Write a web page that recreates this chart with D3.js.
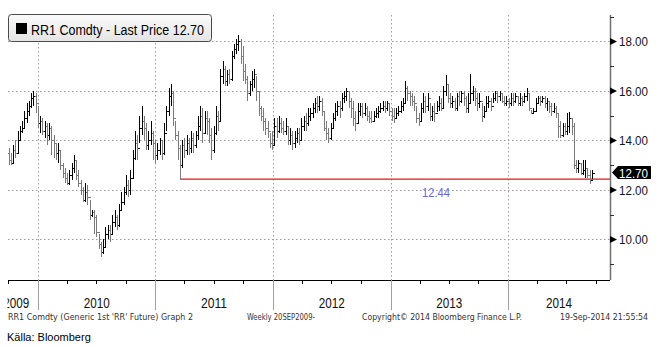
<!DOCTYPE html>
<html>
<head>
<meta charset="utf-8">
<script src="https://cdn.jsdelivr.net/npm/d3@7"></script>
<style>
html,body{margin:0;padding:0;background:#fff;}
svg{display:block;}
</style>
</head>
<body>
<svg id="c" width="657" height="347"></svg>
<script>
// ---------------- DATA ----------------
const firstWeek = new Date(2009, 9, 2);   // weekly bars (Fridays)
const lastWeek  = new Date(2014, 8, 19);
const closeVals = [
13.2,13.1,13.6,13.5,14.0,14.4,14.5,14.9,15.2,15.4,
15.7,15.8,15.5,14.7,14.8,14.4,14.6,14.2,14.5,14.0,
13.9,13.5,13.6,13.0,12.7,12.5,12.3,12.6,12.9,13.2,
12.6,12.3,12.0,11.6,11.9,11.7,11.0,11.1,10.9,10.3,
9.8,9.5,9.7,10.2,10.4,10.2,10.7,10.9,10.6,11.2,
11.5,11.9,12.2,12.0,12.5,13.3,13.9,13.7,14.5,14.8,
14.5,13.8,14.0,14.3,13.9,13.4,13.6,14.0,13.5,14.3,
15.2,15.8,15.9,14.9,14.2,13.7,13.0,13.8,13.6,13.9,
13.7,14.1,13.8,14.2,14.6,15.0,14.3,14.9,14.8,14.2,
13.6,14.3,15.0,14.8,16.6,16.9,16.4,16.7,16.5,17.4,
17.7,17.9,18.0,17.4,16.8,16.5,15.9,16.3,16.5,16.7,
16.0,15.3,15.0,14.8,14.5,14.4,13.9,13.8,14.6,14.4,
14.7,14.5,14.4,14.6,14.0,14.2,13.9,14.1,14.3,14.0,
14.6,14.8,14.7,15.0,15.1,15.3,15.5,15.4,15.6,15.2,
14.5,14.3,14.1,14.5,14.9,15.2,15.4,15.3,15.7,15.8,
16.0,15.6,15.3,14.9,14.7,15.2,15.4,15.1,15.3,15.0,
14.9,14.8,15.0,15.1,15.2,15.3,15.4,15.3,15.5,15.2,
15.0,14.9,15.1,15.2,15.4,15.5,16.1,15.9,15.8,15.6,
15.5,14.9,14.8,15.3,15.6,15.4,15.7,15.0,15.2,15.1,
15.4,15.5,15.3,16.0,16.3,15.7,15.5,15.6,15.3,15.8,
15.6,15.9,15.7,15.3,15.5,15.9,16.0,15.7,15.5,15.6,
15.0,15.2,15.5,15.6,15.4,15.7,15.9,15.8,15.9,15.6,
15.5,15.6,15.5,15.7,15.6,15.8,15.5,15.7,15.6,15.8,
15.9,15.3,15.1,15.2,15.5,15.7,15.6,15.7,15.5,15.6,
15.4,15.2,15.3,15.1,14.6,14.2,14.6,14.4,14.6,14.9,
14.6,13.0,12.9,13.1,12.7,12.8,12.9,12.6,12.4,12.7];
const highVals = [
13.7,13.5,13.8,14.0,14.4,14.6,14.8,15.2,15.5,15.6,
15.9,16.0,15.9,15.4,15.0,14.9,14.8,14.7,14.7,14.6,
14.2,13.9,13.9,13.6,13.1,12.9,12.7,12.8,13.1,13.4,
13.2,12.8,12.4,12.1,12.3,12.2,11.6,11.2,11.2,11.0,
10.2,9.9,10.0,10.5,10.6,10.6,11.0,11.2,11.0,11.45,
11.9,12.1,12.6,12.4,12.8,13.6,14.4,14.2,15.0,15.4,
15.0,14.7,14.4,14.8,14.4,14.0,13.9,14.1,14.0,14.7,
15.4,16.1,16.3,16.0,14.8,14.4,13.8,14.0,14.1,14.2,
14.1,14.4,14.3,14.4,15.0,15.4,15.3,15.2,15.2,14.9,
14.5,14.6,15.4,15.2,16.9,17.2,17.0,16.85,16.9,17.6,
17.9,18.1,18.27,18.1,17.8,17.1,16.6,16.4,16.8,16.9,
16.6,16.0,15.4,15.3,14.9,14.8,14.3,14.4,14.9,14.9,
15.0,14.9,14.8,14.9,14.6,14.5,14.4,14.4,14.5,14.5,
14.9,15.0,15.1,15.3,15.3,15.5,15.7,15.8,15.8,15.7,
15.2,14.8,14.5,14.7,15.1,15.5,15.6,15.6,15.9,16.0,
16.1,16.0,15.7,15.6,15.2,15.5,15.5,15.5,15.5,15.4,
15.2,15.2,15.2,15.3,15.4,15.5,15.6,15.6,15.6,15.5,
15.3,15.3,15.3,15.4,15.6,15.7,16.4,16.2,16.0,15.9,
15.8,15.4,15.1,15.5,15.9,15.8,15.9,15.5,15.4,15.5,
15.6,15.8,15.7,16.2,16.65,16.3,15.9,15.8,15.7,15.9,
16.0,16.0,16.0,15.8,15.9,16.7,16.2,16.1,15.9,15.9,
15.5,15.4,15.8,15.8,15.7,15.9,16.0,16.0,16.0,15.9,
15.8,15.8,15.7,15.9,15.9,15.9,15.8,15.9,15.8,15.9,
16.1,15.9,15.25,15.3,15.7,15.8,15.8,15.8,15.8,15.7,
15.55,15.5,15.5,15.4,15.1,14.8,14.7,14.7,15.1,15.15,
14.9,14.7,13.2,13.2,13.1,13.2,13.2,12.9,12.8,12.8];
const lowVals = [
13.0,13.0,13.1,13.3,13.5,14.0,14.3,14.5,14.7,15.0,
15.3,15.4,15.1,14.5,14.3,14.2,14.1,13.8,14.0,13.4,
13.3,13.2,13.1,12.8,12.5,12.3,12.2,12.2,12.4,12.7,
12.4,12.1,11.8,11.5,11.5,11.4,10.8,10.9,10.2,10.1,
9.6,9.3,9.4,9.7,10.0,9.9,10.2,10.5,10.4,10.5,
11.2,11.4,11.8,11.7,11.8,12.5,13.2,13.2,13.9,14.2,
14.0,13.6,13.6,13.8,13.2,13.1,13.2,13.4,13.2,13.4,
14.4,15.0,15.4,14.6,14.0,13.2,12.44,12.9,13.3,13.4,
13.4,13.5,13.5,13.7,14.0,14.4,13.9,14.3,14.2,13.9,
13.2,13.5,14.2,14.4,14.8,16.3,16.2,16.2,16.3,16.4,
17.3,17.5,17.6,17.1,16.4,16.3,15.6,15.8,16.0,16.1,
15.6,15.0,14.8,14.4,14.2,14.1,13.7,13.6,13.8,14.1,
14.3,14.3,14.2,14.2,13.8,13.8,13.6,13.7,13.9,13.8,
14.0,14.4,14.4,14.6,14.8,14.9,15.1,15.1,15.2,15.0,
14.4,14.0,13.9,14.0,14.5,14.8,15.0,14.9,15.2,15.5,
15.6,15.3,14.9,14.6,14.4,14.7,15.0,14.9,15.0,14.8,
14.7,14.7,14.8,14.9,14.9,15.1,15.2,15.1,15.2,15.0,
14.8,14.7,14.9,15.0,15.1,15.2,15.5,15.6,15.4,15.4,
15.2,14.7,14.6,14.8,15.1,15.1,15.2,14.8,14.8,14.75,
15.15,15.2,15.2,15.3,15.8,15.5,15.3,15.3,15.2,15.2,
15.4,15.5,15.4,15.1,15.1,15.5,15.6,15.4,15.2,15.3,
14.75,14.9,15.2,15.3,15.2,15.5,15.6,15.5,15.6,15.5,
15.4,15.4,15.3,15.4,15.4,15.5,15.4,15.4,15.4,15.5,
15.6,15.2,15.05,15.1,15.2,15.5,15.4,15.5,15.3,15.2,
15.1,15.0,15.1,14.9,14.1,14.1,14.15,14.2,14.2,14.3,
14.2,12.85,12.7,12.7,12.6,12.6,12.5,12.5,12.25,12.45];
const firstOpen = 13.5;
const lastPrice = 12.70;
const refLevel = 12.44;
const refStartWeek = 76;
const yMajorTicks = [10, 12, 14, 16, 18];
const yMinorTicks = [9, 11, 13, 15, 17, 19];
const yearLabels = ["2009", "2010", "2011", "2012", "2013", "2014"];
const legendText = "RR1 Comdty - Last Price 12.70";
const footer = ["RR1 Comdty (Generic 1st 'RR' Future) Graph 2", "Weekly 20SEP2009-",
                "Copyright\u00A9 2014 Bloomberg Finance L.P.", "19-Sep-2014 21:55:54"];
const sourceText = "K\u00E4lla: Bloomberg";

// ---------------- LAYOUT ----------------
const W = 657, H = 347;
const L = 8, R = 610, T = 15, B = 280;
const svg = d3.select("#c");

const dates = d3.timeFriday.range(firstWeek, d3.timeDay.offset(lastWeek, 1));
const bars = dates.map((d, i) => ({
  d, o: i === 0 ? firstOpen : closeVals[i - 1], h: highVals[i], l: lowVals[i], c: closeVals[i]
}));

const x = d3.scaleTime().domain([new Date(2009, 8, 30), new Date(2014, 10, 14)]).range([L, R]);
const y = d3.scaleLinear().domain([8.36, 19.07]).range([B, T]);

svg.append("rect").attr("width", W).attr("height", H).attr("fill", "#fff");

const defs = svg.append("defs");
defs.append("clipPath").attr("id", "axclip").append("rect")
  .attr("x", 7.5).attr("y", 280).attr("width", 610).attr("height", 40);
const grad = defs.append("linearGradient").attr("id", "lg").attr("x1", 0).attr("y1", 0).attr("x2", 0).attr("y2", 1);
grad.append("stop").attr("offset", "0%").attr("stop-color", "#fbfbfb");
grad.append("stop").attr("offset", "100%").attr("stop-color", "#e4e4e4");

// grid
const years = d3.timeYear.range(new Date(2010, 0, 1), new Date(2014, 11, 31));
svg.append("g").selectAll("line").data(yMajorTicks).join("line")
  .attr("x1", L).attr("x2", R)
  .attr("y1", d => Math.round(y(d)) + 0.5).attr("y2", d => Math.round(y(d)) + 0.5)
  .attr("stroke", "#9a9a9a").attr("stroke-dasharray", "1.5,2.5");
svg.append("g").selectAll("line").data(years).join("line")
  .attr("x1", d => Math.round(x(d)) + 0.5).attr("x2", d => Math.round(x(d)) + 0.5)
  .attr("y1", T).attr("y2", B)
  .attr("stroke", "#9a9a9a").attr("stroke-dasharray", "1.5,2.5");

// reference line
svg.append("line")
  .attr("x1", Math.round(x(dates[refStartWeek]))).attr("x2", R)
  .attr("y1", y(refLevel)).attr("y2", y(refLevel))
  .attr("stroke", "#ee1111").attr("stroke-width", 1.3);
svg.append("text").attr("x", 436).attr("y", 197).attr("text-anchor", "middle")
  .attr("font-family", "Liberation Sans, Arial, sans-serif").attr("font-size", 13)
  .attr("fill", "#6a6ad6").attr("textLength", 28).attr("lengthAdjust", "spacingAndGlyphs")
  .text(refLevel.toFixed(2));

// OHLC bars
const gb = svg.append("g").attr("shape-rendering", "crispEdges");
bars.forEach(b => {
  const cx = Math.round(x(b.d)) + 0.5;
  const col = b.c >= b.o ? "#000" : "#7a7a7a";
  gb.append("line").attr("x1", cx).attr("x2", cx).attr("y1", y(b.h)).attr("y2", y(b.l)).attr("stroke", col);
  gb.append("line").attr("x1", cx - 1.5).attr("x2", cx).attr("y1", Math.round(y(b.o)) + 0.5).attr("y2", Math.round(y(b.o)) + 0.5).attr("stroke", col);
  gb.append("line").attr("x1", cx).attr("x2", cx + 2).attr("y1", Math.round(y(b.c)) + 0.5).attr("y2", Math.round(y(b.c)) + 0.5).attr("stroke", col);
});

// right axis
svg.append("line").attr("x1", R + 0.5).attr("x2", R + 0.5).attr("y1", T).attr("y2", B)
  .attr("stroke", "#707070").attr("stroke-width", 1.5);
svg.append("g").selectAll("line").data(yMinorTicks.filter(v => y(v) >= T - 1)).join("line")
  .attr("x1", R).attr("x2", R + 4)
  .attr("y1", d => Math.round(y(d)) + 0.5).attr("y2", d => Math.round(y(d)) + 0.5)
  .attr("stroke", "#333");
const gm = svg.append("g").selectAll("g").data(yMajorTicks).join("g")
  .attr("transform", d => `translate(0,${y(d)})`);
gm.append("path").attr("d", `M${R},-3.5 L${R + 7},0 L${R},3.5 Z`).attr("fill", "#000");
gm.append("text").attr("x", 619).attr("y", 5)
  .attr("font-family", "Liberation Sans, Arial, sans-serif").attr("font-size", 13.5)
  .attr("fill", "#141428").attr("textLength", 29).attr("lengthAdjust", "spacingAndGlyphs")
  .text(d => d.toFixed(2));

// last price tag
const ly = y(lastPrice);
svg.append("path")
  .attr("d", `M${R + 2},${ly} L${R + 8},${ly - 6.5} L651,${ly - 6.5} L651,${ly + 6.5} L${R + 8},${ly + 6.5} Z`)
  .attr("fill", "#000");
svg.append("text").attr("x", 619).attr("y", ly + 5)
  .attr("font-family", "Liberation Sans, Arial, sans-serif").attr("font-size", 13.5)
  .attr("fill", "#fff").attr("textLength", 29).attr("lengthAdjust", "spacingAndGlyphs")
  .text(lastPrice.toFixed(2));

// bottom axis
svg.append("line").attr("x1", L).attr("x2", R).attr("y1", B + 0.5).attr("y2", B + 0.5).attr("stroke", "#000");
const quarters = d3.timeMonth.every(3).range(new Date(2009, 9, 1), new Date(2014, 10, 1));
svg.append("g").selectAll("line").data(quarters).join("line")
  .attr("x1", d => Math.round(x(d)) + 0.5).attr("x2", d => Math.round(x(d)) + 0.5)
  .attr("y1", B).attr("y2", B + 4).attr("stroke", "#000");
svg.append("g").selectAll("line").data(years).join("line")
  .attr("x1", d => Math.round(x(d)) + 0.5).attr("x2", d => Math.round(x(d)) + 0.5)
  .attr("y1", B).attr("y2", 310).attr("stroke", "#a0a0a0");
const yearPos = yearLabels.map((t, i) => {
  const y0 = new Date(2009 + i, 0, 1), y1 = new Date(2010 + i, 0, 1);
  let a = x(y0), b = x(y1);
  if (i === 0) a = x(new Date(2009, 7, 20));
  if (b > R) b = R;
  return { t, cx: (a + b) / 2 };
});
svg.append("g").attr("clip-path", "url(#axclip)").selectAll("text").data(yearPos).join("text")
  .attr("x", d => d.cx).attr("y", 308).attr("text-anchor", "middle")
  .attr("font-family", "Liberation Sans, Arial, sans-serif").attr("font-size", 14)
  .attr("fill", "#111").attr("textLength", 26).attr("lengthAdjust", "spacingAndGlyphs")
  .text(d => d.t);

// footer
const fx = [8, 247, 362, 560], fw = [185, 68, 160, 88];
footer.forEach((t, i) => {
  svg.append("text").attr("x", fx[i]).attr("y", 320)
    .attr("font-family", "DejaVu Sans, Verdana, sans-serif").attr("font-size", 8)
    .attr("fill", "#333").attr("textLength", fw[i]).attr("lengthAdjust", "spacingAndGlyphs")
    .text(t);
});
svg.append("text").attr("x", 7).attr("y", 341)
  .attr("font-family", "Liberation Sans, Arial, sans-serif").attr("font-size", 11)
  .attr("fill", "#000").text(sourceText);

// legend
svg.append("rect").attr("x", 8.5).attr("y", 14.5).attr("width", 203).attr("height", 27).attr("rx", 3)
  .attr("fill", "url(#lg)").attr("stroke", "#4a4a4a");
svg.append("rect").attr("x", 16).attr("y", 23).attr("width", 11).attr("height", 11).attr("fill", "#000");
svg.append("text").attr("x", 31).attr("y", 34.5)
  .attr("font-family", "Liberation Sans, Arial, sans-serif").attr("font-size", 14)
  .attr("fill", "#000").attr("textLength", 173).attr("lengthAdjust", "spacingAndGlyphs")
  .text(legendText);
</script>
</body>
</html>
